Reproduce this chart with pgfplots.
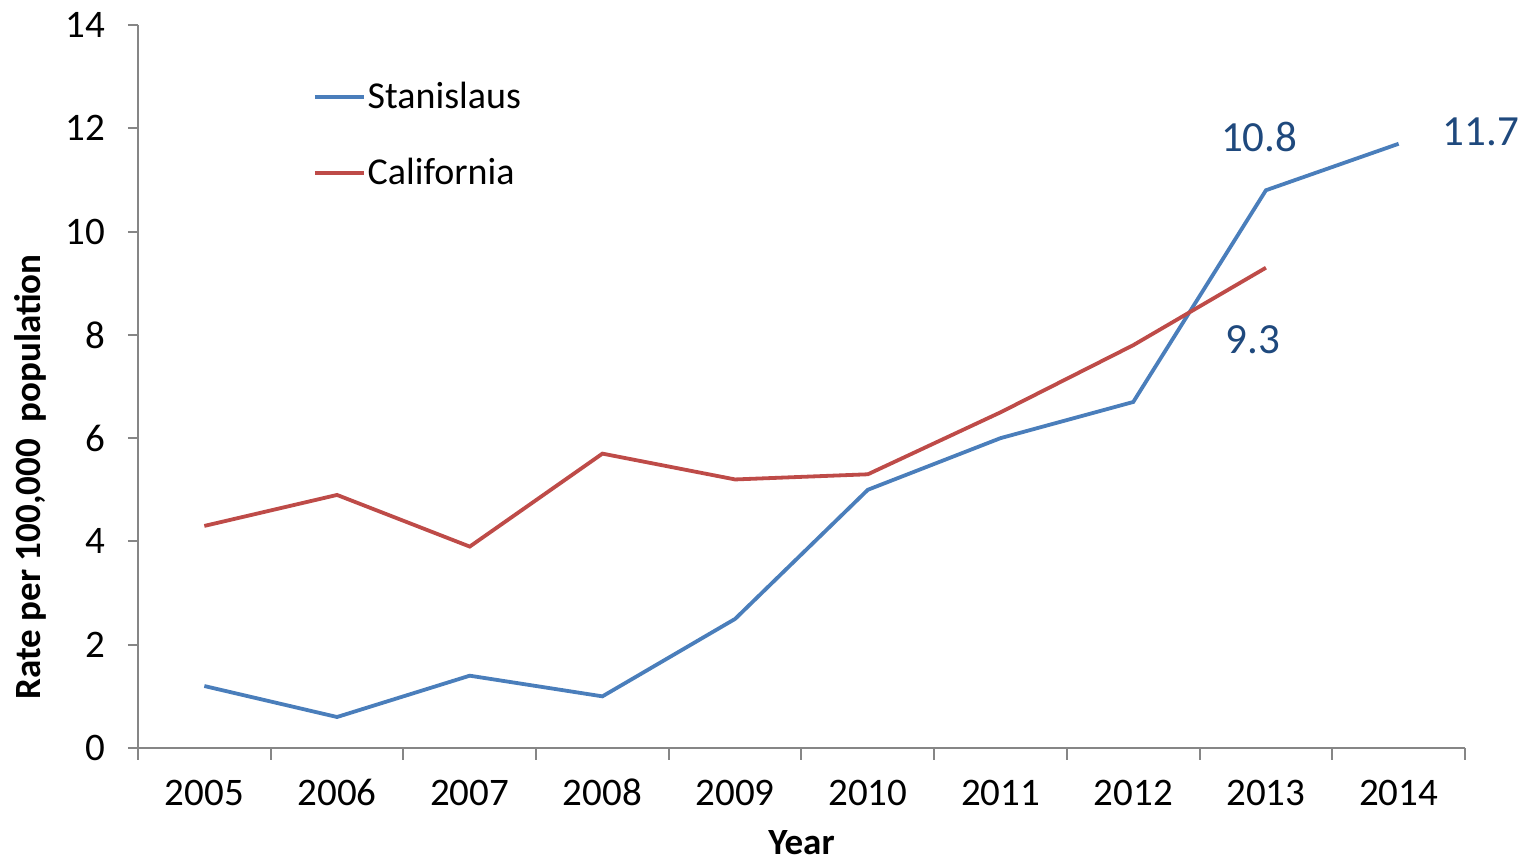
\documentclass[border=0pt]{standalone}
\usepackage{pgfplots}
\pgfplotsset{compat=1.18}
\usepackage{fontspec}
\setmainfont{Carlito}
\definecolor{sblue}{RGB}{74,126,187}
\definecolor{cred}{RGB}{190,75,72}
\definecolor{lblue}{RGB}{31,73,125}
\definecolor{axgray}{RGB}{134,134,134}
\begin{document}
\begin{tikzpicture}
\path[use as bounding box] (-69pt,-56.5pt) rectangle (695pt,374pt);
\begin{axis}[
  scale only axis,
  width=663.5pt, height=361.5pt,
  at={(0,0)}, anchor=south west,
  xmin=-0.5, xmax=9.5, ymin=0, ymax=14,
  axis lines=left,
  axis line style={-, draw=axgray, line width=1pt},
  xtick={0,...,9},
  xticklabels={2005,2006,2007,2008,2009,2010,2011,2012,2013,2014},
  minor xtick={-0.5,0.5,...,9.5},
  major x tick style={draw=none},
  minor x tick style={draw=axgray, line width=1pt},
  minor tick length=6pt,
  ytick={0,2,...,14},
  y tick style={draw=axgray, line width=1pt},
  major tick length=5pt,
  tick align=outside,
  /pgf/number format/assume math mode=true,
  tick label style={font=\fontsize{19.5}{21}\selectfont, text=black},
  xticklabel style={yshift=-7pt, text height=13pt, text depth=0pt},
  yticklabel style={xshift=-8pt},
  xlabel={Year},
  ylabel={Rate per 100,000~ population},
  label style={font=\fontsize{18.5}{20}\selectfont\bfseries},
  xlabel style={at={(axis description cs:0.5,-0.131)}, anchor=center},
  ylabel style={at={(axis description cs:-0.0814,0.375)}, anchor=center},
  legend style={draw=none, fill=none, at={(axis description cs:0.127,0.93)}, anchor=north west,
    font=\fontsize{19}{21}\selectfont, row sep=21.5pt, nodes={inner sep=1pt}},
  legend cell align=left,
  legend image code/.code={\draw[#1] (0pt,0pt) -- (24.5pt,0pt);},
  clip=false,
]
\addplot[sblue, line width=1.9pt] coordinates {
(0,1.2) (1,0.6) (2,1.4) (3,1.0) (4,2.5) (5,5.0) (6,6.0) (7,6.7) (8,10.8) (9,11.7)};
\addlegendentry{Stanislaus}
\addplot[cred, line width=1.9pt] coordinates {
(0,4.3) (1,4.9) (2,3.9) (3,5.7) (4,5.2) (5,5.3) (6,6.5) (7,7.8) (8,9.3)};
\addlegendentry{California}
\node[text=lblue, font=\fontsize{21.5}{24}\selectfont] at (axis cs:7.95,11.83) {10.8};
\node[text=lblue, font=\fontsize{21.5}{24}\selectfont] at (axis cs:9.62,11.93) {11.7};
\node[text=lblue, font=\fontsize{21.5}{24}\selectfont] at (axis cs:7.9,7.9) {9.3};
\end{axis}
\end{tikzpicture}
\end{document}
